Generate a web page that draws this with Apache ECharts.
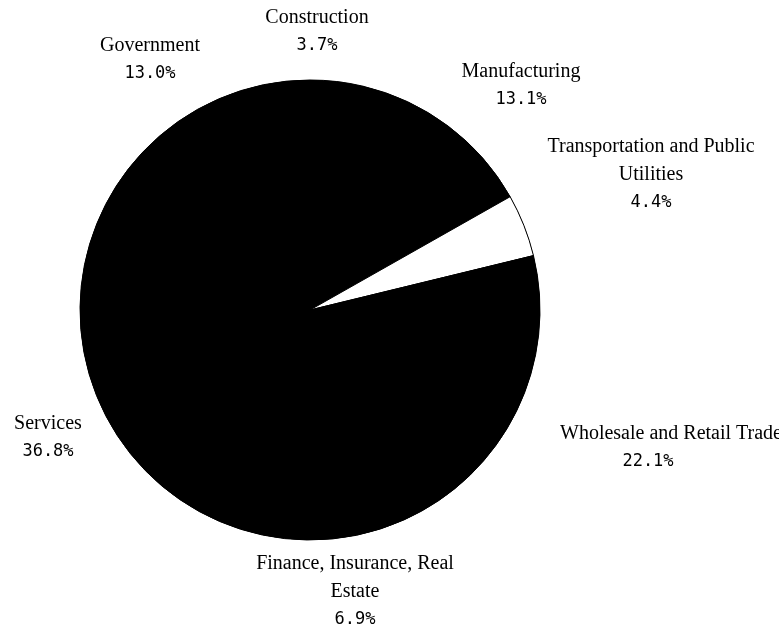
<!DOCTYPE html>
<html>
<head>
<meta charset="utf-8">
<script src="https://cdn.jsdelivr.net/npm/echarts@6/dist/echarts.min.js"></script>
<style>
  html, body { margin: 0; padding: 0; background: #fff; }
  #chart { width: 779px; height: 631px; }
</style>
</head>
<body>
<div id="chart"></div>
<script>
// Employment share by industry (percent of total)
const categories = [
  'Construction',
  'Manufacturing',
  'Transportation and Public\nUtilities',
  'Wholesale and Retail Trade',
  'Finance, Insurance, Real\nEstate',
  'Services',
  'Government'
];
const shares = [3.7, 13.1, 4.4, 22.1, 6.9, 36.8, 13.0];

// Fill colour for each slice
const sliceColors = ['#000', '#000', '#fff', '#000', '#000', '#000', '#000'];

// Label block centres (pixels), one per slice, plus a small horizontal
// shift for the percentage line where it sits off the name's centre.
const labelSpots = [
  { x: 317, y: 32, pctShift: 0 },
  { x: 521, y: 86, pctShift: 0 },
  { x: 651, y: 175, pctShift: 0 },
  { x: 671, y: 448, pctShift: -23 },
  { x: 355, y: 592, pctShift: 0 },
  { x: 48, y: 438, pctShift: 0 },
  { x: 150, y: 60, pctShift: 0 }
];

const chart = echarts.init(document.getElementById('chart'));

const data = categories.map((name, i) => {
  const shift = labelSpots[i].pctShift;
  return {
    name: name,
    value: shares[i],
    itemStyle: { color: sliceColors[i] },
    label: {
      formatter: function (p) {
        const tag = shift ? 'ps' : 'p';
        return p.name.split('\n').map(s => '{n|' + s + '}').join('\n') +
          '\n{' + tag + '|' + p.value.toFixed(1) + '%}';
      }
    }
  };
});

const nameStyle = { fontFamily: 'Liberation Serif', fontSize: 20, color: '#000', lineHeight: 28 };
const pctStyle = { fontFamily: 'DejaVu Sans Mono', fontSize: 17, color: '#000', lineHeight: 28 };

chart.setOption({
  backgroundColor: '#fff',
  animation: false,
  series: [
    {
      // solid disc under the slices so no hairline seams show between them
      type: 'pie',
      center: [310, 310],
      radius: 230,
      silent: true,
      z: 1,
      label: { show: false },
      labelLine: { show: false },
      itemStyle: { color: '#000', borderWidth: 0 },
      data: [{ name: '', value: 1 }]
    },
    {
      type: 'pie',
      center: [310, 310],
      radius: 230,
      startAngle: 90,
      clockwise: true,
      z: 2,
      avoidLabelOverlap: false,
      itemStyle: { borderColor: '#000', borderWidth: 1 },
      emphasis: { disabled: true },
      label: {
        show: true,
        position: 'outside',
        align: 'center',
        rich: {
          n: nameStyle,
          p: pctStyle,
          ps: Object.assign({}, pctStyle, { padding: [0, 46, 0, 0] })
        }
      },
      labelLine: { show: false },
      labelLayout: function (params) {
        const s = labelSpots[params.dataIndex];
        return { x: s.x, y: s.y, align: 'center', verticalAlign: 'middle', hideOverlap: false };
      },
      data: data
    }
  ]
});
</script>
</body>
</html>
